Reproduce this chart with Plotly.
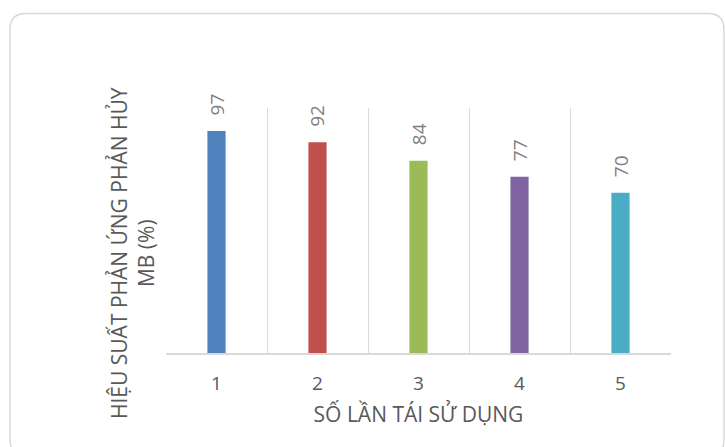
import plotly.graph_objects as go

# Data: photocatalytic MB degradation efficiency over reuse cycles
cycles = [1, 2, 3, 4, 5]
efficiency = [97, 92, 84, 77, 70]
bar_colors = ["#4F81BD", "#C0504D", "#9BBB59", "#8064A2", "#4BACC6"]
x_title = "SỐ LẦN TÁI SỬ DỤNG"
y_title = "HIỆU SUẤT PHẢN ỨNG PHẢN HỦY<br>MB (%)"

W, H = 725, 447
L, R, T, B = 166, 54, 108, 94
PW, PH = W - L - R, H - T - B

FONT = "Open Sans"


def px(x):
    return (x - L) / PW


def py(y):
    return (H - B - y) / PH


fig = go.Figure()
fig.add_trace(go.Bar(
    x=cycles,
    y=efficiency,
    width=0.18,
    marker=dict(color=bar_colors, line=dict(width=0)),
    hoverinfo="skip",
))

# rotated value labels above each bar
for c, v in zip(cycles, efficiency):
    fig.add_annotation(
        x=c, y=v, xref="x", yref="y",
        text=str(v), textangle=-90, showarrow=False,
        xanchor="center", yanchor="bottom", yshift=13,
        font=dict(family=FONT, size=19, color="#808080"),
    )

# y axis title (two centered lines)
fig.add_annotation(
    x=px(132), y=py(253), xref="paper", yref="paper",
    text=y_title, textangle=-90, showarrow=False,
    xanchor="center", yanchor="middle",
    font=dict(family=FONT, size=21, color="#595959"),
)

# rounded chart-area border
x0, x1 = px(10), px(724)
y0, y1 = py(13.5), py(456)
rx, ry = 16 / PW, 16 / PH
path = (
    f"M {x0 + rx} {y0} L {x1 - rx} {y0} Q {x1} {y0} {x1} {y0 - ry} "
    f"L {x1} {y1 + ry} Q {x1} {y1} {x1 - rx} {y1} "
    f"L {x0 + rx} {y1} Q {x0} {y1} {x0} {y1 + ry} "
    f"L {x0} {y0 - ry} Q {x0} {y0} {x0 + rx} {y0} Z"
)
fig.add_shape(type="path", path=path, xref="paper", yref="paper",
              line=dict(color="#d9d9d9", width=1.5), layer="below")

fig.update_layout(
    width=W, height=H,
    margin=dict(l=L, r=R, t=T, b=B),
    paper_bgcolor="white", plot_bgcolor="white",
    showlegend=False,
    xaxis=dict(
        range=[0.5, 5.5],
        tickvals=cycles,
        ticktext=[str(c) for c in cycles],
        showgrid=False,
        minor=dict(tickvals=[0.5, 1.5, 2.5, 3.5, 4.5, 5.5], showgrid=True,
                   gridcolor="#d9d9d9", gridwidth=1.3, ticks=""),
        showline=True, linecolor="#d9d9d9", linewidth=1.5,
        ticks="outside", ticklen=12, tickcolor="rgba(0,0,0,0)",
        tickfont=dict(family=FONT, size=19, color="#595959"),
        title=dict(text=x_title, standoff=13,
                   font=dict(family=FONT, size=21, color="#595959")),
        zeroline=False, fixedrange=True,
    ),
    yaxis=dict(
        range=[0, 107],
        showgrid=False, showticklabels=False, ticks="",
        zeroline=False, showline=False, fixedrange=True,
    ),
)

fig.write_html("out.html")
